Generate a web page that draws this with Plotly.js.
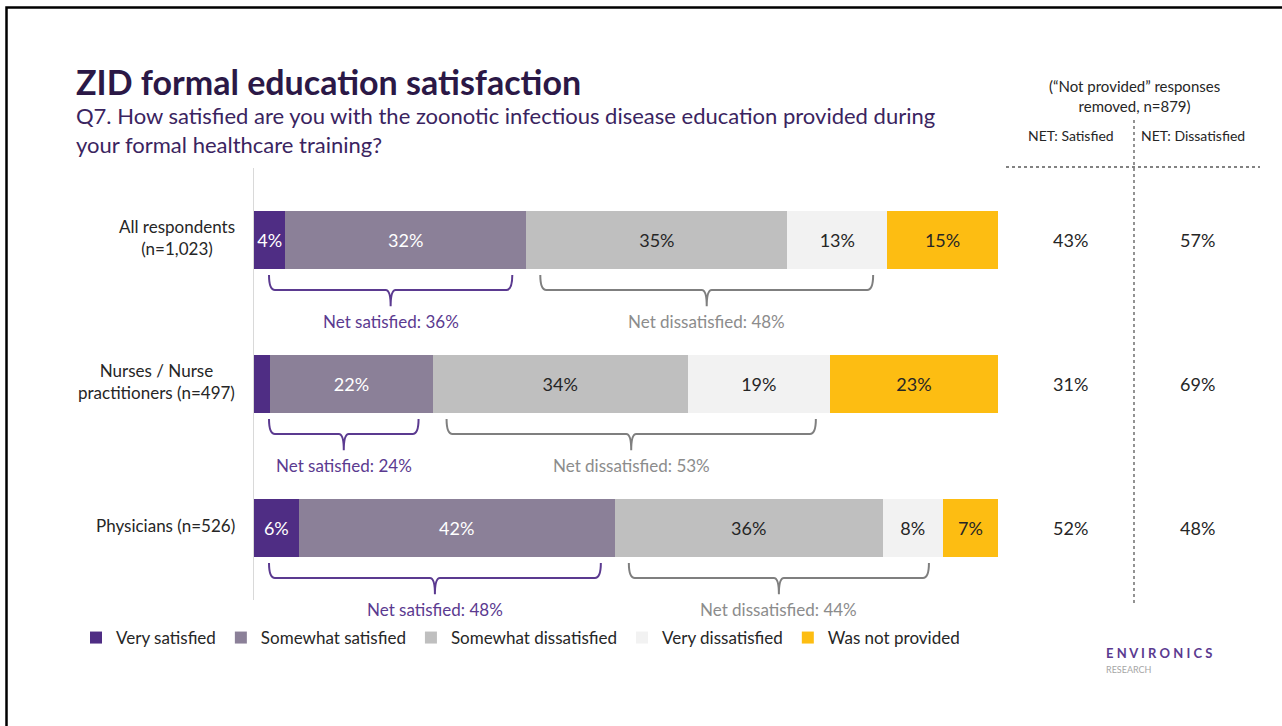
<!DOCTYPE html>
<html>
<head>
<meta charset="utf-8">
<script src="https://cdn.plot.ly/plotly-3.0.1.min.js"></script>
<style>
html,body{margin:0;padding:0;background:#fff;overflow:hidden;}
#chart{width:1282px;height:726px;}
</style>
</head>
<body>
<div id="chart"></div>
<script>
// ---------- DATA ----------
const categories = ["All respondents<br>(n=1,023)", "Nurses / Nurse<br>practitioners (n=497)", "Physicians (n=526)"];
const seriesNames = ["Very satisfied", "Somewhat satisfied", "Somewhat dissatisfied", "Very dissatisfied", "Was not provided"];
const verySatisfied = [4.2, 2.2, 6.0];
const somewhatSatisfied = [32.4, 21.8, 42.5];
const somewhatDissatisfied = [35.1, 34.3, 36.0];
const veryDissatisfied = [13.4, 19.1, 8.1];
const notProvided = [14.9, 22.6, 7.4];
const verySatisfiedLabels = ["4%", "", "6%"];
const somewhatSatisfiedLabels = ["32%", "22%", "42%"];
const somewhatDissatisfiedLabels = ["35%", "34%", "36%"];
const veryDissatisfiedLabels = ["13%", "19%", "8%"];
const notProvidedLabels = ["15%", "23%", "7%"];
const netSatisfiedBracket = [36, 24, 48];
const netDissatisfiedBracket = [48, 53, 44];
const netSatisfiedRemoved = [43, 31, 52];
const netDissatisfiedRemoved = [57, 69, 48];

const colors = ["#4f2d84", "#8b8098", "#bfbfbf", "#f2f2f2", "#fdbd12"];
const textColors = ["#ffffff", "#ffffff", "#262626", "#262626", "#262626"];
const FONT = "Lato, 'Open Sans', sans-serif";

// ---------- GEOMETRY HELPERS (layout only) ----------
const L = 254, R = 998, T = 168, B = 600, W = 1282, H = 726;
const px = x => (x - L) / (R - L);
const py = y => (B - y) / (B - T);
const pxUnits = p => p * 100 / (R - L);
const rowY = v => (2.5 - v) / 3;   // row-based value -> paper y

const rows = categories.map((c, i) => i);
const allSeries = [verySatisfied, somewhatSatisfied, somewhatDissatisfied, veryDissatisfied, notProvided];
const allLabels = [verySatisfiedLabels, somewhatSatisfiedLabels, somewhatDissatisfiedLabels, veryDissatisfiedLabels, notProvidedLabels];

const traces = allSeries.map((vals, k) => ({
  type: "bar",
  orientation: "h",
  name: seriesNames[k],
  y: rows,
  x: vals,
  width: 0.4,
  marker: {color: colors[k], line: {width: 0}},
  text: allLabels[k],
  textposition: "inside",
  insidetextanchor: "middle",
  textangle: 0,
  textfont: {family: FONT, size: 18, color: textColors[k]},
  hoverinfo: "skip"
}));

const shapes = [];
const annotations = [];

// border frame
shapes.push({type: "rect", xref: "paper", yref: "paper", x0: px(6.5), x1: px(1300), y0: py(7.5), y1: py(760),
  line: {color: "#000", width: 2.5}, fillcolor: "rgba(0,0,0,0)", layer: "above"});

function bracket(x0, x1, i, color) {
  const top = i + 0.243, line = i + 0.347, tip = i + 0.46;
  const r = pxUnits(6), m = (x0 + x1) / 2, rm = pxUnits(5);
  const path = `M${x0},${top} Q${x0},${line} ${x0 + r},${line} L${m - rm},${line} Q${m},${line} ${m},${tip} Q${m},${line} ${m + rm},${line} L${x1 - r},${line} Q${x1},${line} ${x1},${top}`;
  shapes.push({type: "path", xref: "x", yref: "y", path: path, line: {color: color, width: 2}});
  return m;
}

rows.forEach(i => {
  const satEnd = verySatisfied[i] + somewhatSatisfied[i];
  const disEnd = satEnd + somewhatDissatisfied[i] + veryDissatisfied[i];
  const ins = pxUnits(14);
  const m1 = bracket(ins + pxUnits(1), satEnd - ins, i, "#5b3a90");
  const m2 = bracket(satEnd + ins, disEnd - ins, i, "#7f7f7f");
  annotations.push({xref: "x", yref: "paper", x: m1, y: rowY(i + 0.565), xanchor: "center", yanchor: "middle",
    text: "Net satisfied: " + netSatisfiedBracket[i] + "%",
    showarrow: false, font: {family: FONT, size: 17, color: "#5b3a90"}});
  annotations.push({xref: "x", yref: "paper", x: m2, y: rowY(i + 0.565), xanchor: "center", yanchor: "middle",
    text: "Net dissatisfied: " + netDissatisfiedBracket[i] + "%",
    showarrow: false, font: {family: FONT, size: 17, color: "#8c8c8c"}});
  // category labels
  annotations.push({xref: "paper", yref: "paper", x: px(237), y: rowY(i) + 0.005, xanchor: "right", yanchor: "middle", align: "center",
    text: categories[i], showarrow: false, font: {family: FONT, size: 17, color: "#262626"}});
  // right net columns
  annotations.push({xref: "paper", yref: "paper", x: px(1070), y: rowY(i), xanchor: "center", yanchor: "middle",
    text: netSatisfiedRemoved[i] + "%",
    showarrow: false, font: {family: FONT, size: 18, color: "#262626"}});
  annotations.push({xref: "paper", yref: "paper", x: px(1197), y: rowY(i), xanchor: "center", yanchor: "middle",
    text: netDissatisfiedRemoved[i] + "%",
    showarrow: false, font: {family: FONT, size: 18, color: "#262626"}});
});

// dotted lines on the right
shapes.push({type: "line", xref: "paper", yref: "paper", x0: px(1006), x1: px(1260), y0: py(167), y1: py(167),
  line: {color: "#595959", width: 1.3, dash: "dot"}});
shapes.push({type: "line", xref: "paper", yref: "paper", x0: px(1134), x1: px(1134), y0: py(120), y1: py(603),
  line: {color: "#595959", width: 1.3, dash: "dot"}});

// titles
annotations.push({xref: "paper", yref: "paper", x: px(74), y: py(82), xanchor: "left", yanchor: "middle",
  text: "<b>ZID formal education satisfaction</b>", showarrow: false, font: {family: FONT, size: 34, color: "#2b1846"}});
annotations.push({xref: "paper", yref: "paper", x: px(74), y: py(130), xanchor: "left", yanchor: "middle", align: "left",
  text: "Q7. How satisfied are you with the zoonotic infectious disease education provided during<br>your formal healthcare training?",
  showarrow: false, font: {family: FONT, size: 22, color: "#3a2460"}});
annotations.push({xref: "paper", yref: "paper", x: px(1134), y: py(96), xanchor: "center", yanchor: "middle", align: "center",
  text: "(“Not provided” responses<br>removed, n=879)", showarrow: false, font: {family: FONT, size: 15, color: "#262626"}});
annotations.push({xref: "paper", yref: "paper", x: px(1071), y: py(135), xanchor: "center", yanchor: "middle",
  text: "NET: Satisfied", showarrow: false, font: {family: FONT, size: 14, color: "#262626"}});
annotations.push({xref: "paper", yref: "paper", x: px(1193), y: py(135), xanchor: "center", yanchor: "middle",
  text: "NET: Dissatisfied", showarrow: false, font: {family: FONT, size: 14, color: "#262626"}});
// logo
annotations.push({xref: "paper", yref: "paper", x: px(1105), y: py(662), xanchor: "left", yanchor: "bottom", borderpad: 0,
  text: "<b>E N V I R O N I C S</b>", showarrow: false, font: {family: FONT, size: 13, color: "#5b3a90"}});
annotations.push({xref: "paper", yref: "paper", x: px(1105), y: py(663), xanchor: "left", yanchor: "top", borderpad: 0,
  text: "RESEARCH", showarrow: false, font: {family: FONT, size: 9, color: "#a6a6a6"}});

const layout = {
  width: W, height: H,
  margin: {l: L, r: W - R, t: T, b: H - B, pad: 0},
  paper_bgcolor: "#fff", plot_bgcolor: "#fff",
  barmode: "stack",
  bargap: 0.6,
  showlegend: true,
  legend: {orientation: "h", x: px(76), y: py(620), xanchor: "left", yanchor: "top",
    font: {family: FONT, size: 17, color: "#262626"}, traceorder: "normal", itemwidth: 30, itemclick: false},
  xaxis: {range: [0, 100], visible: false, fixedrange: true},
  yaxis: {range: [2.5, -0.5], tickvals: rows, showticklabels: false, showgrid: false, zeroline: false,
    showline: true, linecolor: "#d9d9d9", linewidth: 1, fixedrange: true},
  uniformtext: {mode: "show", minsize: 18},
  shapes: shapes,
  annotations: annotations,
  font: {family: FONT}
};

Plotly.newPlot("chart", traces, layout, {displayModeBar: false, staticPlot: true});
</script>
</body>
</html>
